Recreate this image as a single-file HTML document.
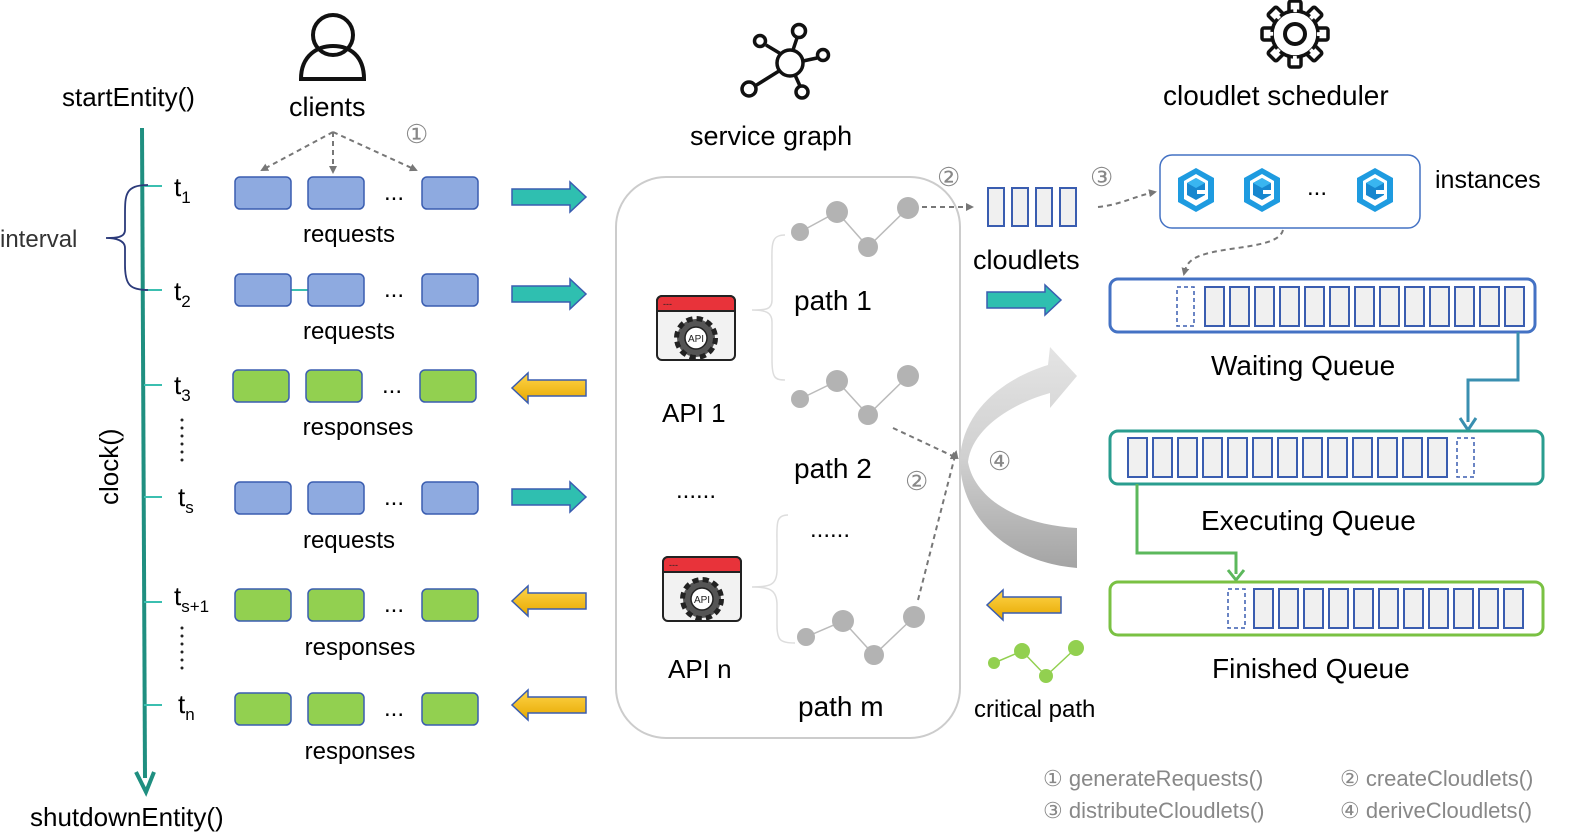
<!DOCTYPE html>
<html><head><meta charset="utf-8"><style>
html,body{margin:0;padding:0;background:#fff}
svg{display:block;font-family:"Liberation Sans",sans-serif}
</style></head><body>
<svg width="1578" height="840" viewBox="0 0 1578 840" xmlns="http://www.w3.org/2000/svg">
<defs>
<marker id="ga" markerWidth="8" markerHeight="8" refX="6" refY="4" orient="auto" markerUnits="userSpaceOnUse"><path d="M0,0 L8,4 L0,8 z" fill="#777"/></marker>
<linearGradient id="yl" x1="0" y1="0" x2="0" y2="1"><stop offset="0" stop-color="#ffd54a"/><stop offset="1" stop-color="#e6a800"/></linearGradient>
<linearGradient id="cg" x1="0" y1="0" x2="0" y2="1"><stop offset="0" stop-color="#e4e4e4"/><stop offset="0.5" stop-color="#d0d0d0"/><stop offset="1" stop-color="#a4a4a4"/></linearGradient>
<g id="ta"><path d="M0,-8 H58 V-15 L74,0 L58,15 V8 H0 Z" fill="#2fbfb0" stroke="#3a5db0" stroke-width="1.5"/></g>
<g id="ya"><path d="M74,-8 H16 V-15 L0,0 L16,15 V8 H74 Z" fill="url(#yl)" stroke="#3a5db0" stroke-width="1.5"/></g>
<g id="br"><rect x="0" y="0" width="56" height="32" rx="5" fill="#8eaae0" stroke="#3a5db0" stroke-width="1.5"/></g>
<g id="gr"><rect x="0" y="0" width="56" height="32" rx="5" fill="#92d050" stroke="#3a5db0" stroke-width="1.5"/></g>
<g id="c"><rect x="0" y="0" width="19" height="39" fill="#f0f0f0" stroke="#3a5db0" stroke-width="2"/></g>
<g id="api">
<rect x="0" y="0" width="78" height="64" rx="5" fill="#f2f2f2" stroke="#222" stroke-width="2"/>
<path d="M0,5 a5,5 0 0 1 5,-5 h68 a5,5 0 0 1 5,5 v10 h-78z" fill="#e8333a" stroke="#222" stroke-width="2"/>
<text x="6" y="11" font-size="9" fill="#222">---</text>
<circle cx="39" cy="42" r="19" fill="#555" stroke="#222" stroke-width="6" stroke-dasharray="6 4"/>
<circle cx="39" cy="42" r="17" fill="#555"/>
<circle cx="39" cy="42" r="11" fill="#fff" stroke="#222" stroke-width="1.5"/>
<text x="39" y="46" font-size="10" text-anchor="middle" fill="#222">API</text>
</g>
<g id="hex"><path d="M20,0 L38,10 V34 L20,44 L2,34 V10 Z" fill="#1e9be0"/><path d="M20,6 L32,13 V31 L20,38 L8,31 V13 Z" fill="#fff"/><path d="M20,10 L29,15 V27 L20,32 L11,27 V15Z" fill="#1787cf"/><path d="M20,10 L29,15 L20,20 L11,15Z" fill="#39b5f0"/><rect x="21" y="22" width="9" height="4" fill="#fff"/></g>
<rect id="tooth" x="-6" y="-33" width="12" height="14" rx="2" fill="#fff" stroke="#111" stroke-width="3.5"/>
</defs>

<!-- timeline -->
<line x1="142" y1="128" x2="145" y2="778" stroke="#1f8f80" stroke-width="4"/>
<path d="M136,772 L146,792 L154,772" fill="none" stroke="#1f8f80" stroke-width="4"/>
<text x="62" y="106" font-size="26">startEntity()</text>
<text x="30" y="826" font-size="26">shutdownEntity()</text>
<text x="0" y="0" font-size="26" transform="translate(118,505) rotate(-90)">clock()</text>
<g stroke="#3bbfb0" stroke-width="2">
<line x1="144" y1="186" x2="162" y2="186"/><line x1="144" y1="290" x2="162" y2="290"/>
<line x1="144" y1="385" x2="162" y2="385"/><line x1="144" y1="497" x2="162" y2="497"/>
<line x1="144" y1="602" x2="162" y2="602"/><line x1="144" y1="705" x2="162" y2="705"/>
</g>
<path d="M148,185 C125,185 125,195 125,215 L125,230 C125,238 115,238 106,238 C115,238 125,240 125,248 L125,265 C125,285 130,290 148,290" fill="none" stroke="#2b3a7a" stroke-width="1.8"/>
<text x="0" y="247" font-size="24" fill="#333">interval</text>
<g font-size="26">
<text x="174" y="196">t<tspan font-size="17" dy="7">1</tspan></text>
<text x="174" y="300">t<tspan font-size="17" dy="7">2</tspan></text>
<text x="174" y="394">t<tspan font-size="17" dy="7">3</tspan></text>
<text x="178" y="506">t<tspan font-size="17" dy="7">s</tspan></text>
<text x="174" y="605">t<tspan font-size="17" dy="7">s+1</tspan></text>
<text x="178" y="713">t<tspan font-size="17" dy="7">n</tspan></text>
</g>
<g fill="#222"><circle cx="182" cy="420" r="1.5"/><circle cx="182" cy="428" r="1.5"/><circle cx="182" cy="436" r="1.5"/><circle cx="182" cy="444" r="1.5"/><circle cx="182" cy="452" r="1.5"/><circle cx="182" cy="460" r="1.5"/>
<circle cx="182" cy="628" r="1.5"/><circle cx="182" cy="636" r="1.5"/><circle cx="182" cy="644" r="1.5"/><circle cx="182" cy="652" r="1.5"/><circle cx="182" cy="660" r="1.5"/><circle cx="182" cy="668" r="1.5"/></g>

<!-- client icon -->
<circle cx="333" cy="35" r="20" fill="none" stroke="#111" stroke-width="4"/>
<path d="M301,79 C301,55 318,46 333,46 C350,46 364,56 364,79 Z" fill="none" stroke="#111" stroke-width="4"/>
<text x="289" y="116" font-size="27">clients</text>
<text x="405" y="143" font-size="26" fill="#888">①</text>
<g stroke="#777" stroke-width="2" stroke-dasharray="5 4" fill="none">
<line x1="333" y1="132" x2="262" y2="170" marker-end="url(#ga)"/>
<line x1="333" y1="132" x2="333" y2="172" marker-end="url(#ga)"/>
<line x1="333" y1="132" x2="416" y2="170" marker-end="url(#ga)"/>
</g>

<!-- rows -->
<g>
<use href="#br" x="235" y="177"/><use href="#br" x="308" y="177"/><use href="#br" x="422" y="177"/>
<line x1="291" y1="290" x2="308" y2="290" stroke="#3bbfb0" stroke-width="2"/>
<use href="#br" x="235" y="274"/><use href="#br" x="308" y="274"/><use href="#br" x="422" y="274"/>
<use href="#gr" x="233" y="370"/><use href="#gr" x="306" y="370"/><use href="#gr" x="420" y="370"/>
<use href="#br" x="235" y="482"/><use href="#br" x="308" y="482"/><use href="#br" x="422" y="482"/>
<use href="#gr" x="235" y="589"/><use href="#gr" x="308" y="589"/><use href="#gr" x="422" y="589"/>
<use href="#gr" x="235" y="693"/><use href="#gr" x="308" y="693"/><use href="#gr" x="422" y="693"/>
</g>
<g font-size="24" text-anchor="middle">
<text x="394" y="200">...</text><text x="394" y="297">...</text><text x="392" y="393">...</text>
<text x="394" y="505">...</text><text x="394" y="612">...</text><text x="394" y="716">...</text>
<text x="349" y="242">requests</text><text x="349" y="339">requests</text><text x="358" y="435">responses</text>
<text x="349" y="548">requests</text><text x="360" y="655">responses</text><text x="360" y="759">responses</text>
</g>
<use href="#ta" x="512" y="197"/><use href="#ta" x="512" y="294"/><use href="#ta" x="512" y="497"/>
<use href="#ya" x="512" y="388"/><use href="#ya" x="512" y="601"/><use href="#ya" x="512" y="705"/>

<!-- service graph -->
<g stroke="#111" stroke-width="3.5" fill="none">
<circle cx="790" cy="63" r="13"/><line x1="779" y1="71" x2="755" y2="86"/><circle cx="749" cy="89" r="7"/>
<line x1="781" y1="54" x2="766" y2="45"/><circle cx="760" cy="41" r="5.5"/>
<line x1="793" y1="50" x2="797" y2="38"/><circle cx="799" cy="31" r="6.5"/>
<line x1="803" y1="61" x2="817" y2="58"/><circle cx="823" cy="55" r="5.5"/>
<line x1="795" y1="75" x2="800" y2="86"/><circle cx="802" cy="92" r="6"/>
</g>
<text x="690" y="145" font-size="27">service graph</text>
<rect x="616" y="177" width="344" height="561" rx="50" fill="none" stroke="#ccc" stroke-width="2"/>
<use href="#api" x="657" y="296"/><use href="#api" x="663" y="557"/>
<text x="662" y="422" font-size="26">API 1</text>
<text x="668" y="678" font-size="26">API n</text>
<text x="676" y="498" font-size="24">......</text>
<text x="810" y="537" font-size="24">......</text>
<g font-size="28"><text x="794" y="310">path 1</text><text x="794" y="478">path 2</text><text x="798" y="716">path m</text></g>
<g fill="none" stroke="#ddd" stroke-width="1.5">
<path d="M785,235 C770,235 772,245 772,270 L772,300 C772,310 765,310 752,310 C765,310 772,312 772,322 L772,360 C772,378 775,380 785,380"/>
<path d="M788,515 C775,515 777,525 777,545 L777,570 C777,585 770,587 752,587 C770,587 777,590 777,605 L777,625 C777,640 780,643 795,643"/>
</g>
<g stroke="#bbb" stroke-width="1.5"><polyline points="800,232 837,212 868,247 908,208" fill="none"/><polyline points="800,399 837,381 868,415 908,376" fill="none"/><polyline points="806,637 843,621 874,655 914,617" fill="none"/></g>
<g fill="#b3b3b3">
<circle cx="800" cy="232" r="9"/><circle cx="837" cy="212" r="11"/><circle cx="868" cy="247" r="10"/><circle cx="908" cy="208" r="11"/>
<circle cx="800" cy="399" r="9"/><circle cx="837" cy="381" r="11"/><circle cx="868" cy="415" r="10"/><circle cx="908" cy="376" r="11"/>
<circle cx="806" cy="637" r="9"/><circle cx="843" cy="621" r="11"/><circle cx="874" cy="655" r="10"/><circle cx="914" cy="617" r="11"/>
</g>
<g stroke="#777" stroke-width="2" stroke-dasharray="5 4" fill="none">
<line x1="922" y1="207" x2="972" y2="207" marker-end="url(#ga)"/>
<line x1="893" y1="428" x2="957" y2="458" marker-end="url(#ga)"/>
<line x1="918" y1="600" x2="956" y2="452" marker-end="url(#ga)"/>
</g>
<text x="937" y="186" font-size="26" fill="#888">②</text>
<text x="905" y="490" font-size="26" fill="#888">②</text>
<text x="988" y="470" font-size="26" fill="#888">④</text>
<text x="1090" y="186" font-size="26" fill="#888">③</text>

<!-- cloudlets -->
<g fill="#f0f0f0" stroke="#3a5db0" stroke-width="2">
<rect x="988" y="188" width="16" height="38"/><rect x="1012" y="188" width="16" height="38"/><rect x="1036" y="188" width="16" height="38"/><rect x="1060" y="188" width="16" height="38"/>
</g>
<text x="973" y="269" font-size="27">cloudlets</text>
<use href="#ta" x="987" y="300"/>
<use href="#ya" x="987" y="605"/>

<!-- curved gray arrow -->
<path d="M1077,568 C1005,562 960,515 960,460 C962,410 1005,378 1048,365 L1050,347 L1077,376 L1050,408 L1050,393 C1008,405 972,430 968,462 C975,500 1020,525 1077,528 Z" fill="url(#cg)"/>

<!-- critical path -->
<g stroke="#92d050" stroke-width="1.5" fill="none"><polyline points="994,663 1022,651 1046,676 1076,648"/></g>
<g fill="#92d050"><circle cx="994" cy="663" r="6"/><circle cx="1022" cy="651" r="8"/><circle cx="1046" cy="676" r="7"/><circle cx="1076" cy="648" r="8"/></g>
<text x="974" y="717" font-size="24">critical path</text>

<!-- scheduler gear -->
<g transform="translate(1295,34)">
<use href="#tooth" transform="rotate(0)"/><use href="#tooth" transform="rotate(45)"/><use href="#tooth" transform="rotate(90)"/><use href="#tooth" transform="rotate(135)"/>
<use href="#tooth" transform="rotate(180)"/><use href="#tooth" transform="rotate(225)"/><use href="#tooth" transform="rotate(270)"/><use href="#tooth" transform="rotate(315)"/>
<circle r="23" fill="#fff" stroke="#111" stroke-width="3.5"/>
<circle r="24" fill="none" stroke="#fff" stroke-width="4" stroke-dasharray="4 14.85" stroke-dashoffset="2" transform="rotate(-90)"/>
<circle r="10" fill="none" stroke="#111" stroke-width="4"/>
</g>
<text x="1163" y="105" font-size="28">cloudlet scheduler</text>
<rect x="1160" y="155" width="260" height="73" rx="12" fill="#fff" stroke="#4472c4" stroke-width="1.5"/>
<use href="#hex" x="1176" y="168"/><use href="#hex" x="1242" y="168"/><use href="#hex" x="1355" y="168"/>
<text x="1307" y="195" font-size="24">...</text>
<text x="1435" y="188" font-size="25">instances</text>
<g stroke="#777" stroke-width="2" stroke-dasharray="5 4" fill="none">
<path d="M1098,207 C1120,205 1135,196 1155,192" marker-end="url(#ga)"/>
<path d="M1283,230 C1278,250 1220,245 1195,258 C1188,262 1186,266 1184,274" marker-end="url(#ga)"/>
</g>

<!-- queues -->
<rect x="1110" y="279" width="425" height="53" rx="8" fill="#fff" stroke="#4472c4" stroke-width="3"/>
<rect x="1177" y="287" width="17" height="39" fill="none" stroke="#3a5db0" stroke-width="1.5" stroke-dasharray="4 3"/>
<g transform="translate(1205,287)"><use href="#c" x="0"/><use href="#c" x="25"/><use href="#c" x="50"/><use href="#c" x="75"/><use href="#c" x="100"/><use href="#c" x="125"/><use href="#c" x="150"/><use href="#c" x="175"/><use href="#c" x="200"/><use href="#c" x="225"/><use href="#c" x="250"/><use href="#c" x="275"/><use href="#c" x="300"/></g>
<text x="1211" y="375" font-size="28">Waiting Queue</text>

<path d="M1518,332 V380 H1468 V422" fill="none" stroke="#3a8fb0" stroke-width="3"/>
<path d="M1460,418 L1468,430 L1476,418" fill="none" stroke="#3a8fb0" stroke-width="3"/>

<rect x="1110" y="431" width="433" height="53" rx="8" fill="#fff" stroke="#2a9d8f" stroke-width="3"/>
<g transform="translate(1128,438)"><use href="#c" x="0"/><use href="#c" x="25"/><use href="#c" x="50"/><use href="#c" x="75"/><use href="#c" x="100"/><use href="#c" x="125"/><use href="#c" x="150"/><use href="#c" x="175"/><use href="#c" x="200"/><use href="#c" x="225"/><use href="#c" x="250"/><use href="#c" x="275"/><use href="#c" x="300"/></g>
<rect x="1457" y="438" width="17" height="39" fill="none" stroke="#3a5db0" stroke-width="1.5" stroke-dasharray="4 3"/>
<text x="1201" y="530" font-size="28">Executing Queue</text>

<path d="M1137,484 V553 H1236 V574" fill="none" stroke="#5cb85c" stroke-width="3"/>
<path d="M1228,570 L1236,580 L1244,570" fill="none" stroke="#5cb85c" stroke-width="3"/>

<rect x="1110" y="582" width="433" height="53" rx="8" fill="#fff" stroke="#7ac143" stroke-width="3"/>
<rect x="1228" y="589" width="17" height="39" fill="none" stroke="#3a5db0" stroke-width="1.5" stroke-dasharray="4 3"/>
<g transform="translate(1254,589)"><use href="#c" x="0"/><use href="#c" x="25"/><use href="#c" x="50"/><use href="#c" x="75"/><use href="#c" x="100"/><use href="#c" x="125"/><use href="#c" x="150"/><use href="#c" x="175"/><use href="#c" x="200"/><use href="#c" x="225"/><use href="#c" x="250"/></g>
<text x="1212" y="678" font-size="28">Finished Queue</text>

<!-- legend -->
<g font-size="22" fill="#888">
<text x="1043" y="786">①  generateRequests()</text>
<text x="1340" y="786">②  createCloudlets()</text>
<text x="1043" y="818">③  distributeCloudlets()</text>
<text x="1340" y="818">④  deriveCloudlets()</text>
</g>
</svg>
</body></html>
